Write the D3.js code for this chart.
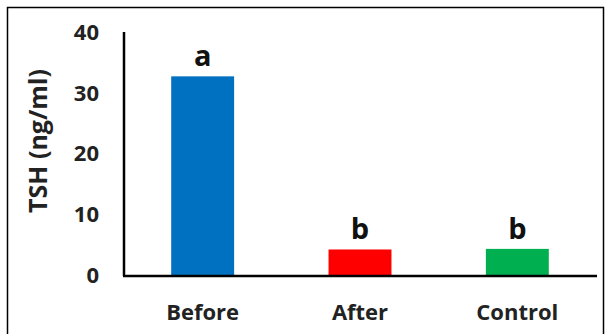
<!DOCTYPE html>
<html><head><meta charset="utf-8">
<script src="https://cdn.jsdelivr.net/npm/d3@7"></script>
<style>html,body{margin:0;padding:0;background:#fff}svg{display:block}</style>
</head><body>
<script>
const categories = ["Before", "After", "Control"];
const values = [32.7, 4.2, 4.3];
const letters = ["a", "b", "b"];
const colors = ["#0070C0", "#FF0000", "#00B050"];
const yTicks = [0, 10, 20, 30, 40];

const W = 608, H = 334;
const svg = d3.select("body").append("svg").attr("width", W).attr("height", H);
svg.append("rect").attr("x", 7.5).attr("y", 7.5).attr("width", 596).attr("height", 340)
  .attr("fill", "none").attr("stroke", "#000").attr("stroke-width", 1.5);

const font = "'Open Sans', 'Liberation Sans', sans-serif";
const x = d3.scaleBand().domain(categories).range([124, 596]).paddingInner(0.6).paddingOuter(0.3);
const y = d3.scaleLinear().domain([0, 40]).range([275, 32]);

svg.selectAll("rect.bar").data(values).enter().append("rect").attr("class", "bar")
  .attr("x", (d, i) => x(categories[i])).attr("width", x.bandwidth())
  .attr("y", d => y(d)).attr("height", d => y(0) - y(d))
  .attr("fill", (d, i) => colors[i]);

// axes
svg.append("line").attr("x1", 124).attr("x2", 124).attr("y1", y(40)).attr("y2", y(0) + 1)
  .attr("stroke", "#000").attr("stroke-width", 2.5);
svg.append("line").attr("x1", 123).attr("x2", 597).attr("y1", y(0) + 1).attr("y2", y(0) + 1)
  .attr("stroke", "#000").attr("stroke-width", 2.5);

svg.selectAll("text.yt").data(yTicks).enter().append("text").attr("class", "yt")
  .attr("x", 99).attr("y", d => y(d)).attr("dy", "0.36em").attr("text-anchor", "end")
  .attr("font-family", font).attr("font-weight", "bold").attr("font-size", 22).attr("fill", "#222")
  .text(d => d);

svg.selectAll("text.xt").data(categories).enter().append("text").attr("class", "xt")
  .attr("x", d => x(d) + x.bandwidth() / 2).attr("y", 320).attr("text-anchor", "middle")
  .attr("font-family", font).attr("font-weight", "bold").attr("font-size", 22).attr("fill", "#222")
  .text(d => d);

svg.selectAll("text.lt").data(values).enter().append("text").attr("class", "lt")
  .attr("x", (d, i) => x(categories[i]) + x.bandwidth() / 2).attr("y", d => y(d) - 10)
  .attr("text-anchor", "middle")
  .attr("font-family", font).attr("font-weight", "bold").attr("font-size", 29).attr("fill", "#111")
  .text((d, i) => letters[i]);

svg.append("text").attr("transform", "translate(47,141) rotate(-90)")
  .attr("text-anchor", "middle")
  .attr("font-family", font).attr("font-weight", "bold").attr("font-size", 25).attr("fill", "#222")
  .text("TSH (ng/ml)");
</script>
</body></html>
